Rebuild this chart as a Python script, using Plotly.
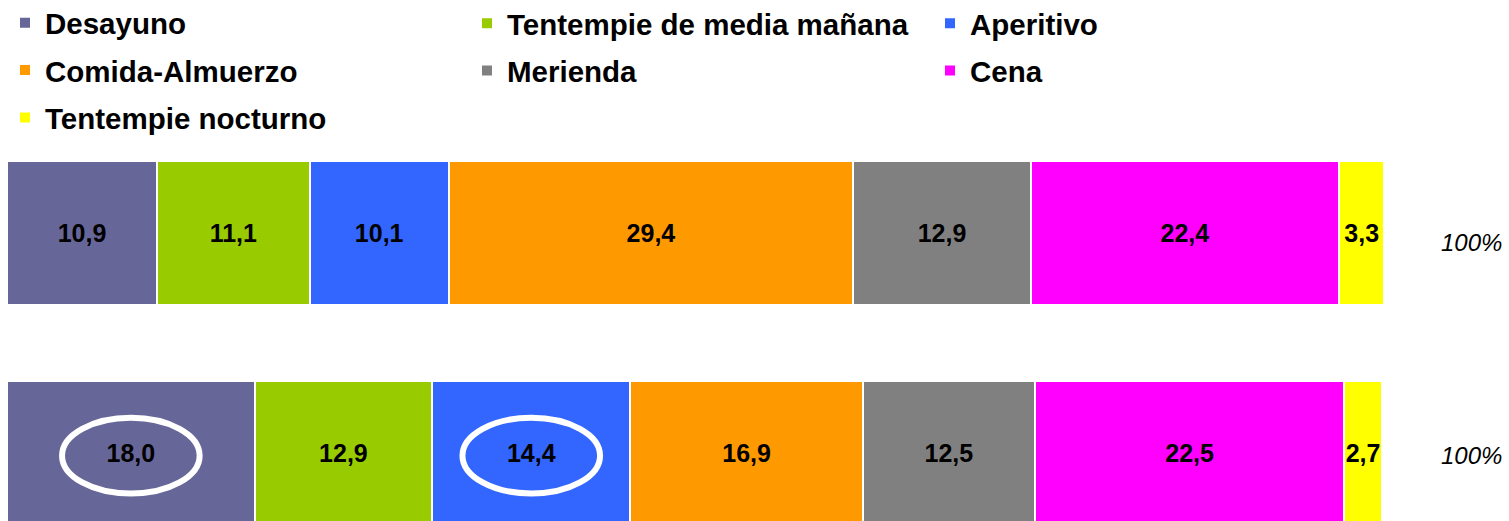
import plotly.graph_objects as go

# ---- data ----
rows = ["Fila 1", "Fila 2"]
meals = ["Desayuno", "Tentempie de media mañana", "Aperitivo",
         "Comida-Almuerzo", "Merienda", "Cena", "Tentempie nocturno"]
desayuno = [10.9, 18.0]
tentempie_media = [11.1, 12.9]
aperitivo = [10.1, 14.4]
comida = [29.4, 16.9]
merienda = [12.9, 12.5]
cena = [22.4, 22.5]
tentempie_nocturno = [3.3, 2.7]
totals_text = ["100%", "100%"]
highlight = [("Desayuno", "Fila 2"), ("Aperitivo", "Fila 2")]

series = [desayuno, tentempie_media, aperitivo, comida, merienda, cena, tentempie_nocturno]
colors = ["#666699", "#99CC00", "#3366FF", "#FF9900", "#808080", "#FF00FF", "#FFFF00"]
legend_of = ["legend", "legend2", "legend3", "legend", "legend2", "legend3", "legend"]

FONT = "Liberation Sans, Arial, sans-serif"

fig = go.Figure()
for name, vals, col, lg in zip(meals, series, colors, legend_of):
    fig.add_trace(go.Bar(
        y=rows, x=vals, name=name, orientation="h",
        marker=dict(color=col, line=dict(color="white", width=2)),
        text=vals, texttemplate="%{x:.1f}", textposition="inside",
        insidetextanchor="middle", constraintext="none", textangle=0,
        textfont=dict(family=FONT, size=25, color="black", weight="bold"),
        legend=lg, legendgroup=name, hoverinfo="skip",
    ))

# ellipses around highlighted values (positions derived from data)
shapes = []
for meal, row in highlight:
    ri = rows.index(row)
    mi = meals.index(meal)
    start = sum(s[ri] for s in series[:mi])
    cx = start + series[mi][ri] / 2
    cy = 1 - ri - 0.012  # category index (Fila 1 on top), slight downward offset
    shapes.append(dict(type="circle", xref="x", yref="y",
                       x0=cx - 5.0, x1=cx + 5.0, y0=cy - 0.172, y1=cy + 0.172,
                       line=dict(color="white", width=6)))

annotations = []
yshifts = [-10, -2]
for ri, row in enumerate(rows):
    annotations.append(dict(x=1.0407, y=row, xref="paper", yref="y", text=totals_text[ri],
                            showarrow=False, xanchor="left", yanchor="middle",
                            yshift=yshifts[ri],
                            font=dict(family=FONT, size=24, color="black", style="italic")))

leg_common = dict(font=dict(family=FONT, size=29.5, color="black", weight="bold"),
                  xref="container", yref="container", yanchor="bottom", xanchor="left",
                  orientation="v", tracegroupgap=6, bgcolor="rgba(0,0,0,0)",
                  itemclick=False, itemdoubleclick=False)

fig.update_layout(
    width=1509, height=521,
    margin=dict(l=7, r=126, t=161, b=0, autoexpand=False),
    paper_bgcolor="white", plot_bgcolor="white",
    barmode="stack", bargap=0.345,
    separators=",.",
    showlegend=True,
    legend=dict(x=5 / 1509, y=1 - 144 / 521, **leg_common),
    legend2=dict(x=467 / 1509, y=1 - 96.5 / 521, **leg_common),
    legend3=dict(x=930 / 1509, y=1 - 96.5 / 521, **leg_common),
    xaxis=dict(range=[0, 100], visible=False, fixedrange=True),
    yaxis=dict(type="category", categoryorder="array", categoryarray=rows[::-1],
               range=[-0.309, 1.327], visible=False, fixedrange=True),
    shapes=shapes, annotations=annotations,
)

fig.write_html("out.html", config={"displayModeBar": False},
               post_script="document.body.style.margin='0';document.body.style.padding='0';")
